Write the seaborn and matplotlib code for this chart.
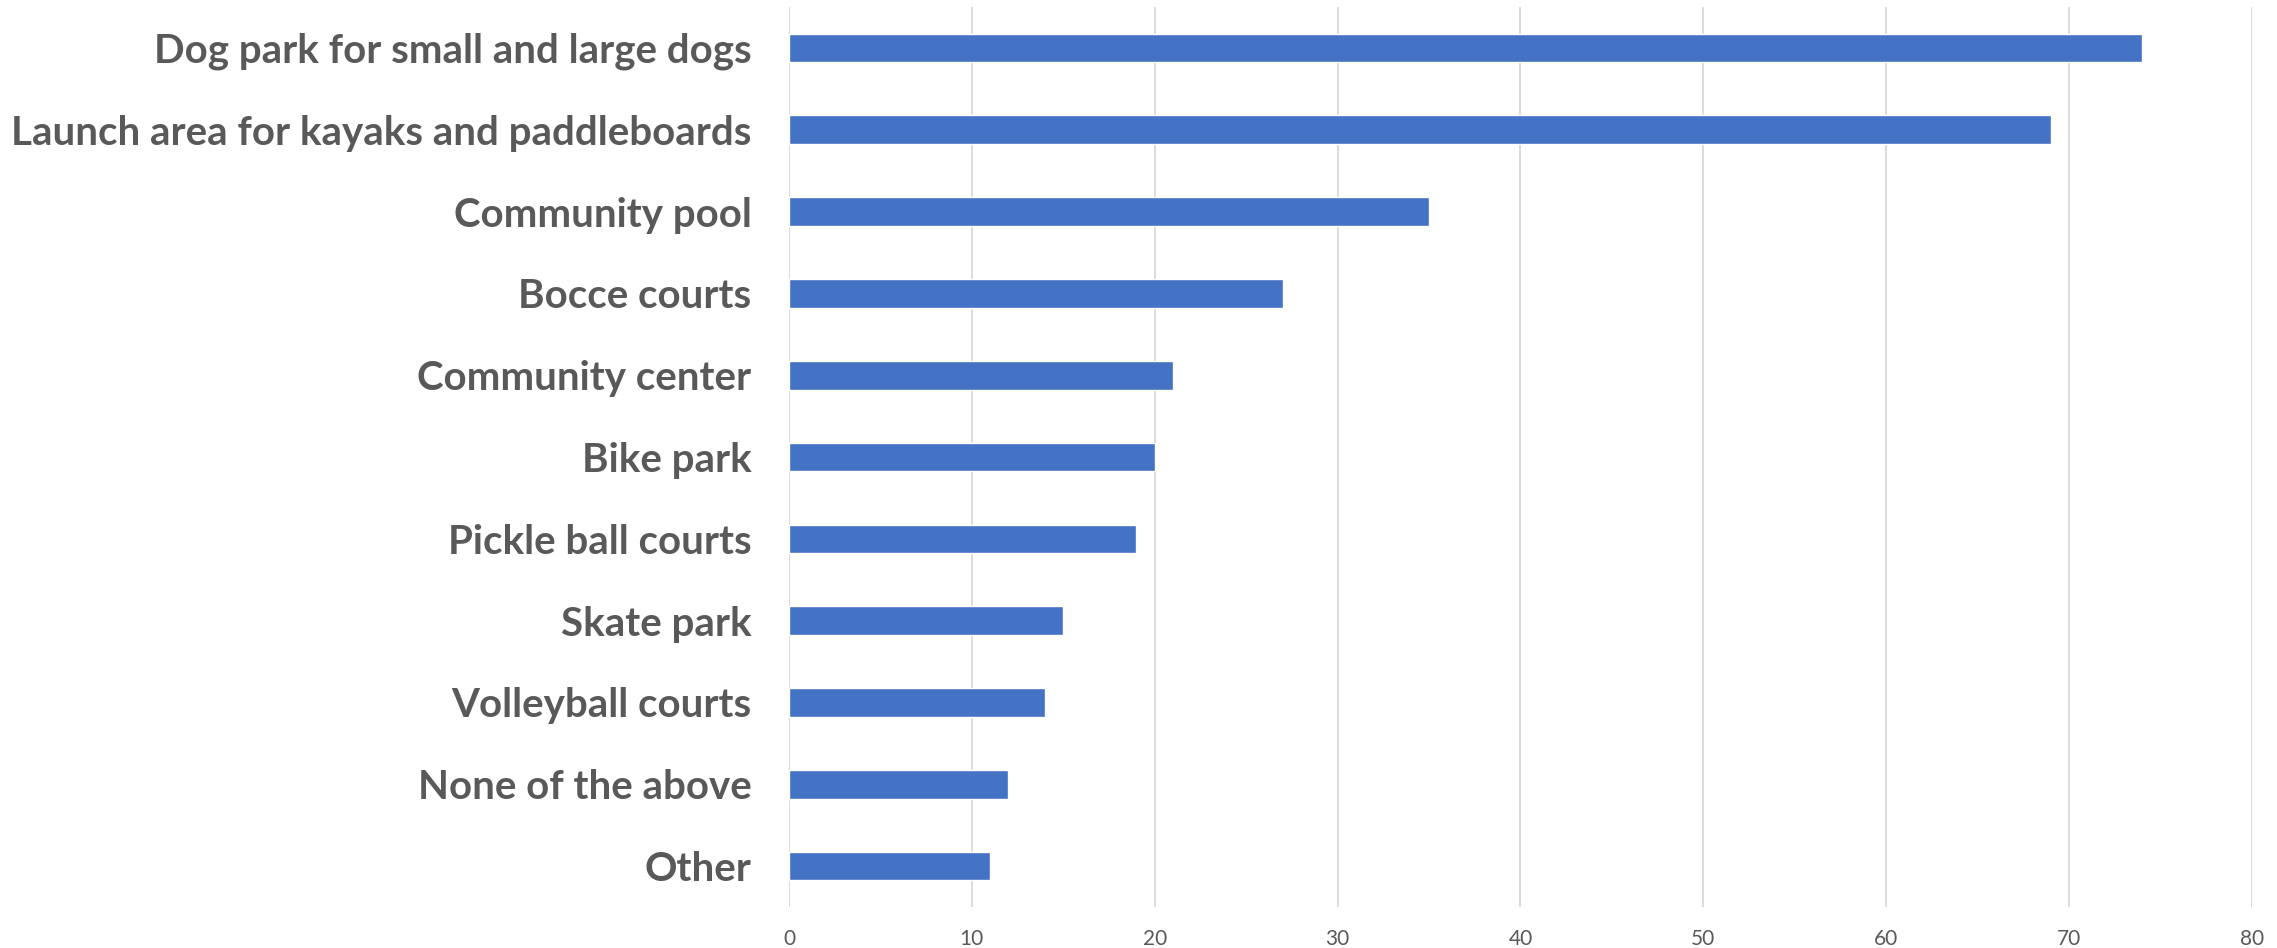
import matplotlib
matplotlib.use("Agg")
import matplotlib.pyplot as plt
import seaborn as sns
import pandas as pd

categories = [
    "Dog park for small and large dogs",
    "Launch area for kayaks and paddleboards",
    "Community pool",
    "Bocce courts",
    "Community center",
    "Bike park",
    "Pickle ball courts",
    "Skate park",
    "Volleyball courts",
    "None of the above",
    "Other",
]
values = [74, 69, 35, 27, 21, 20, 19, 15, 14, 12, 11]
x_ticks = [0, 10, 20, 30, 40, 50, 60, 70, 80]

df = pd.DataFrame({"category": categories, "value": values})

sns.set_theme(style="white")
plt.rcParams["font.family"] = ["Lato", "DejaVu Sans"]

fig = plt.figure(figsize=(22.77, 9.48), dpi=100)
ax = fig.add_axes([789 / 2277, 1 - 907 / 948, (2252 - 789) / 2277, 900 / 948])

sns.barplot(data=df, x="value", y="category", order=categories, orient="h",
            color="#4472C4", saturation=1, width=0.35, ax=ax, zorder=3)

ax.set_xlim(0, 80)
ax.set_xticks(x_ticks)
ax.set_xticklabels([str(t) for t in x_ticks])
ax.set_xlabel("")
ax.set_ylabel("")
ax.grid(axis="x", color="#D9D9D9", linewidth=1.3, zorder=0)
ax.grid(axis="y", visible=False)
for s in ax.spines.values():
    s.set_visible(False)
ax.tick_params(axis="both", length=0)
ax.tick_params(axis="x", labelsize=15, labelcolor="#595959", pad=16)
ax.tick_params(axis="y", labelsize=29, labelcolor="#595959", pad=27)
for lbl in ax.get_yticklabels():
    lbl.set_fontweight("bold")

fig.savefig("out.png", dpi=100, facecolor="white")
